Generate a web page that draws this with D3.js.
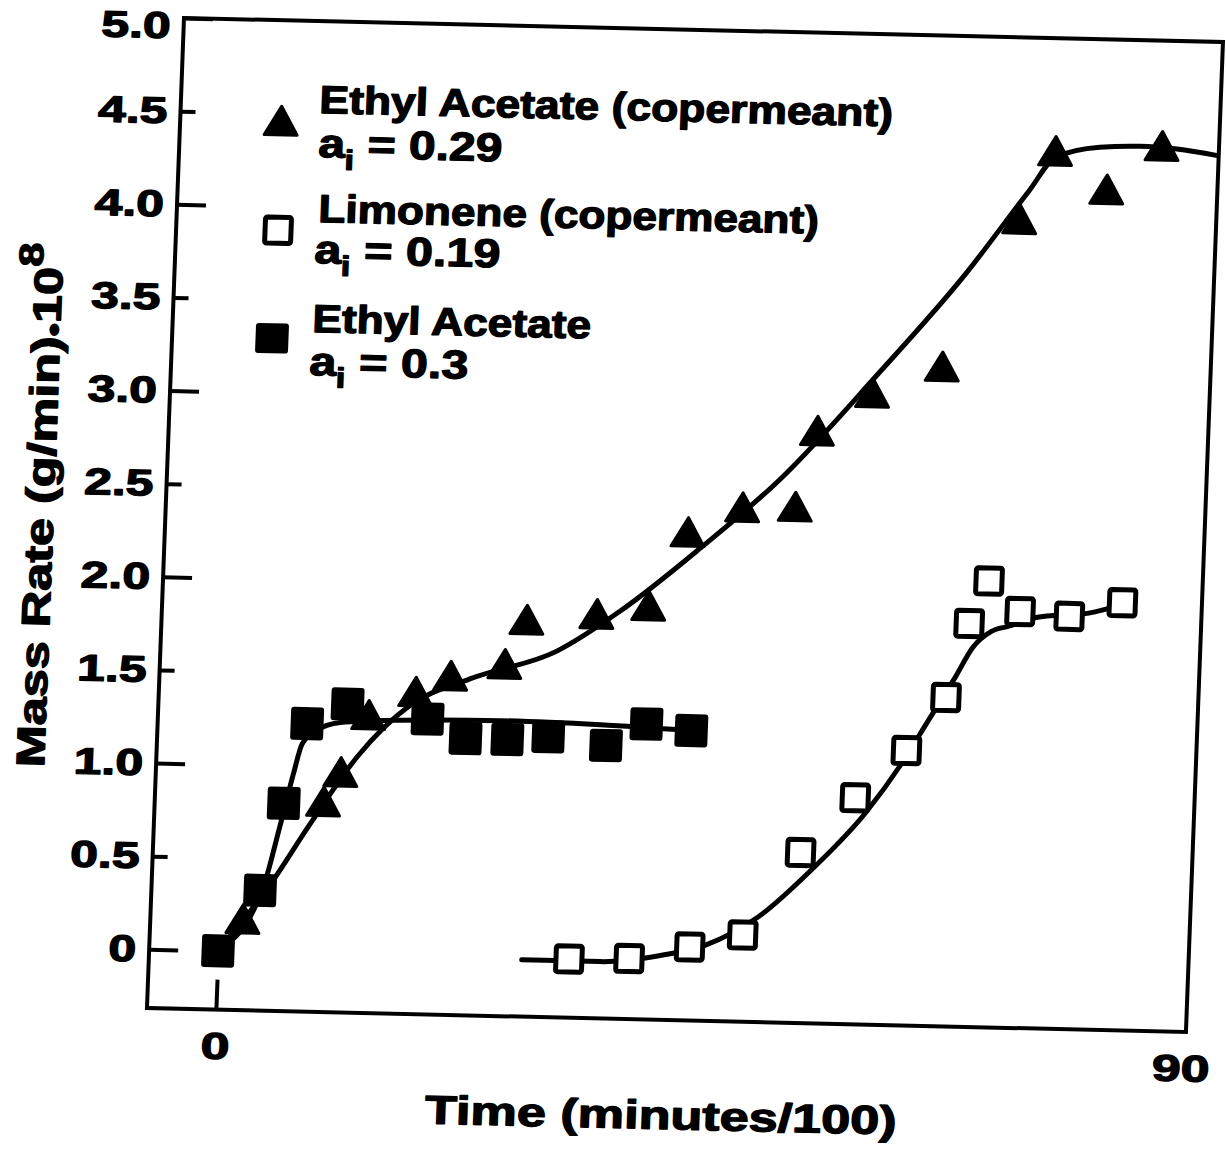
<!DOCTYPE html>
<html>
<head>
<meta charset="utf-8">
<title>Mass Rate vs Time</title>
<script src="https://d3js.org/d3.v7.min.js"></script>
<style>
  body { margin: 0; background: #fff; }
  svg { display: block; }
  text {
    font-family: "Liberation Sans", Arial, Helvetica, sans-serif;
    font-weight: bold;
    fill: #000;
    stroke: #000;
    stroke-width: 1.3px;
    stroke-linejoin: round;
  }
</style>
</head>
<body>
<div id="chart"></div>
<script>
// time in minutes/100, mass rate in (g/min)*1e8

// Ethyl Acetate (copermeant), a_i = 0.29  -- filled triangles
const triTime = [2.2, 9.3, 10.8, 13.2, 17.5, 20.7, 25.7, 27.6, 34.1, 38.9, 42.3, 47.3, 52.2, 54.0, 59.0, 65.4, 72.1, 75.2, 80.1, 85.1];
const triRate = [0.15, 0.79, 0.95, 1.26, 1.39, 1.48, 1.55, 1.79, 1.83, 1.88, 2.28, 2.42, 2.43, 2.84, 3.05, 3.20, 4.00, 4.37, 4.17, 4.41];

// Limonene (copermeant), a_i = 0.19  -- open squares
const limTime = [32.7, 38.3, 43.9, 48.8, 53.9, 58.8, 63.4, 66.9, 68.8, 70.5, 73.5, 78.1, 83.0];
const limRate = [0.0, 0.01, 0.08, 0.15, 0.60, 0.90, 1.16, 1.45, 1.85, 2.08, 1.92, 1.90, 1.98];

// Ethyl Acetate alone, a_i = 0.3  -- filled squares
const eaTime = [0, 3.7, 5.6, 7.5, 11.2, 18.7, 22.3, 26.2, 30.0, 35.4, 39.1, 43.3];
const eaRate = [0, 0.33, 0.80, 1.23, 1.34, 1.27, 1.17, 1.17, 1.19, 1.15, 1.27, 1.24];

// hand drawn fit curves
const triFitTime = [0, 4.6, 8.1, 12.3, 17.0, 22.5, 30.5, 36.2, 43.5, 50.7, 59.2, 67.2, 72.9, 75.2, 79.3, 83.0, 86.5, 90.3];
const triFitRate = [0, 0.36, 0.69, 1.06, 1.34, 1.49, 1.65, 1.87, 2.22, 2.60, 3.16, 3.72, 4.18, 4.36, 4.42, 4.43, 4.42, 4.39];
const limFitTime = [28.3, 35.6, 41.2, 45.3, 50.2, 55.0, 59.8, 63.0, 65.4, 67.7, 69.2, 70.9, 72.5, 75.0, 79.9, 83.0];
const limFitRate = [-0.01, -0.01, 0.03, 0.09, 0.25, 0.51, 0.82, 1.09, 1.33, 1.56, 1.72, 1.81, 1.84, 1.89, 1.92, 1.97];
const eaFitTime = [0, 3.9, 5.3, 6.4, 7.1, 8.3, 10.6, 16.1, 25.5, 34.8, 43.3];
const eaFitRate = [0, 0.33, 0.67, 0.96, 1.12, 1.19, 1.24, 1.26, 1.27, 1.26, 1.24];

const yTicks = [0, 0.5, 1.0, 1.5, 2.0, 2.5, 3.0, 3.5, 4.0, 4.5, 5.0];
const xTicks = [0, 90];

const width = 1226, height = 1151;
const frameW = 1040, frameH = 990;

const svg = d3.select("#chart").append("svg")
    .attr("width", width)
    .attr("height", height);
svg.append("rect").attr("width", width).attr("height", height).attr("fill", "#fff");

// the scan is a little skewed, so the whole plot is drawn in a skewed frame
const g = svg.append("g")
    .attr("transform", "matrix(0.999,0.0231,-0.0374,1,184,18)");

const x = d3.scaleLinear().domain([0, 90]).range([69, 1035.6]);
const y = d3.scaleLinear().domain([0, 5]).range([931.3, 0]);

// fit text to a width (the print face is wider than Arial)
function fitText(parent, u, v, w, anchor, size, build, rotate) {
    const holder = parent.append("g");
    const t = holder.append("text")
        .attr("text-anchor", anchor)
        .attr("font-size", size);
    build(t);
    const natural = t.node().getBBox().width;
    holder.attr("transform", `translate(${u},${v})${rotate ? " rotate(-90)" : ""} scale(${w / natural},1)`);
    return holder;
}

// frame
g.append("rect")
    .attr("width", frameW)
    .attr("height", frameH)
    .attr("fill", "none")
    .attr("stroke", "#000")
    .attr("stroke-width", 4);

const fmt = d => d === 0 ? "0" : d.toFixed(1);

function styleAxis(sel, stretch) {
    sel.select(".domain").remove();
    sel.attr("font-size", 37).attr("font-family", null);
    sel.selectAll("line").attr("stroke", "#000").attr("stroke-width", 4);
    sel.selectAll("text").each(function(d) {
        const t = d3.select(this);
        const tx = +t.attr("x") || 0;
        // the top label sits a little under its corner in the print
        const ty = (+t.attr("y") || 0) + (d === 5 ? 8 : 0);
        t.attr("x", 0).attr("y", 0)
         .attr("transform", `translate(${tx},${ty}) scale(${stretch},1)`);
    });
}

// y axis: long ticks at whole numbers, short ones at the halves
g.append("g")
    .call(d3.axisLeft(y).tickValues(yTicks.filter(d => d % 1 === 0))
        .tickSizeInner(-29).tickSizeOuter(0).tickPadding(13).tickFormat(fmt))
    .call(s => styleAxis(s, 1.35));
g.append("g")
    .call(d3.axisLeft(y).tickValues(yTicks.filter(d => d % 1 !== 0))
        .tickSizeInner(-15).tickSizeOuter(0).tickPadding(13).tickFormat(fmt))
    .call(s => styleAxis(s, 1.35));

// x axis
g.append("g")
    .attr("transform", `translate(0,${frameH})`)
    .call(d3.axisBottom(x).tickValues(xTicks)
        .tickSizeInner(-30).tickSizeOuter(0).tickPadding(23).tickFormat(d3.format("d")))
    .call(s => styleAxis(s, 1.4))
    .call(s => s.selectAll(".tick").filter(d => d === 90).select("line").remove());

// axis titles
fitText(g, 518, 1099, 472, "middle", 40, t => t.text("Time (minutes/100)"));
fitText(g, -112, 490, 524, "middle", 40, t => {
    t.append("tspan").text("Mass Rate (g/min)");
    t.append("tspan").attr("font-size", 30).attr("dy", 4).text("•");
    t.append("tspan").attr("dy", -4).text("10");
    t.append("tspan").attr("font-size", 34).attr("dy", -20).text("8");
}, true);

// fitted curves
const line = d3.line()
    .x(d => x(d[0]))
    .y(d => y(d[1]))
    .curve(d3.curveMonotoneX);

[[triFitTime, triFitRate], [eaFitTime, eaFitRate], [limFitTime, limFitRate]].forEach(([t, r]) => {
    g.append("path")
        .datum(d3.zip(t, r))
        .attr("d", line)
        .attr("fill", "none")
        .attr("stroke", "#000")
        .attr("stroke-width", 5)
        .attr("stroke-linecap", "round");
});

// markers
const tri = d3.symbol(d3.symbolTriangle, 470);

g.append("g").selectAll("path")
    .data(d3.zip(triTime, triRate))
    .join("path")
    .attr("transform", d => `translate(${x(d[0])},${y(d[1])})`)
    .attr("d", tri)
    .attr("fill", "#000")
    .attr("stroke", "#000")
    .attr("stroke-width", 3)
    .attr("stroke-linejoin", "round");

g.append("g").selectAll("rect")
    .data(d3.zip(eaTime, eaRate))
    .join("rect")
    .attr("x", d => x(d[0]) - 16.5)
    .attr("y", d => y(d[1]) - 16.5)
    .attr("width", 33)
    .attr("height", 33)
    .attr("rx", 3)
    .attr("fill", "#000");

g.append("g").selectAll("rect")
    .data(d3.zip(limTime, limRate))
    .join("rect")
    .attr("x", d => x(d[0]) - 13)
    .attr("y", d => y(d[1]) - 13)
    .attr("width", 26)
    .attr("height", 26)
    .attr("rx", 2)
    .attr("fill", "#fff")
    .attr("stroke", "#000")
    .attr("stroke-width", 5);

// legend
const leg = g.append("g");
leg.append("path")
    .attr("transform", "translate(101,105)")
    .attr("d", tri)
    .attr("fill", "#000").attr("stroke", "#000")
    .attr("stroke-width", 3).attr("stroke-linejoin", "round");
leg.append("rect")
    .attr("x", 102 - 13).attr("y", 210 - 13)
    .attr("width", 26).attr("height", 26).attr("rx", 2)
    .attr("fill", "#fff").attr("stroke", "#000").attr("stroke-width", 5);
leg.append("rect")
    .attr("x", 100 - 16.5).attr("y", 318 - 15)
    .attr("width", 33).attr("height", 30).attr("rx", 3)
    .attr("fill", "#000");

function activity(val) {
    return t => {
        t.append("tspan").text("a");
        t.append("tspan").attr("font-size", 28).attr("dy", 12).text("i");
        t.append("tspan").attr("dy", -12).text(" = " + val);
    };
}

fitText(leg, 138.6, 91.8, 574, "start", 39, t => t.text("Ethyl Acetate (copermeant)"));
fitText(leg, 139.2, 135.8, 184, "start", 40, activity("0.29"));
fitText(leg, 141.6, 200.7, 501, "start", 39, t => t.text("Limonene (copermeant)"));
fitText(leg, 139.2, 241.8, 186, "start", 40, activity("0.19"));
fitText(leg, 139.7, 310.7, 279, "start", 39, t => t.text("Ethyl Acetate"));
fitText(leg, 138.4, 353.7, 159, "start", 40, activity("0.3"));
</script>
</body>
</html>
